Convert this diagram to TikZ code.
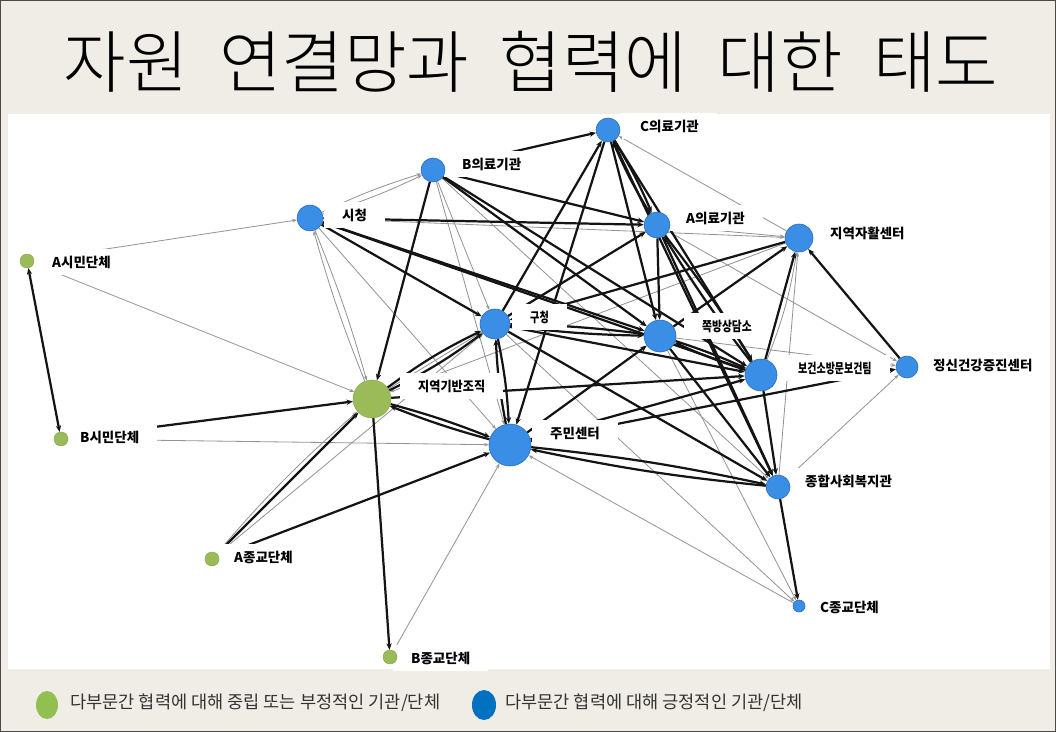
\documentclass[tikz,border=0pt]{standalone}
\usepackage{fontspec}
\usetikzlibrary{arrows.meta,shapes.geometric}
\newfontfamily\kr{Noto Sans CJK KR}
\newfontfamily\krlight{Noto Sans CJK KR Light}
\definecolor{nblue}{HTML}{3A8EE6}
\definecolor{nblueb}{HTML}{2C6CB4}
\definecolor{ngreen}{HTML}{9BBB59}
\definecolor{ngreenb}{HTML}{86A84A}
\definecolor{lgreen}{HTML}{92C050}
\definecolor{lblue}{HTML}{0070C0}
\definecolor{beige}{HTML}{EFEDE5}
\pgfdeclarelayer{bgl}
\pgfdeclarelayer{edgel}
\pgfdeclarelayer{labl}
\pgfsetlayers{bgl,edgel,labl,main}
\tikzset{
  bn/.style={circle,fill=nblue,draw=nblueb,line width=0.5pt,minimum size={#1*0.06cm},inner sep=0pt},
  gn/.style={circle,fill=ngreen,draw=ngreenb,line width=0.4pt,minimum size={#1*0.06cm},inner sep=0pt},
  lab/.style={fill=white,anchor=west,inner xsep=0.54cm,inner ysep=0.2cm,font=\kr\bfseries\fontsize{11.5}{12}\selectfont},
  bk/.style={draw=black!92,line width=1.9pt,-{Stealth[length=5.5pt,width=4.5pt]}},
  gr/.style={draw=black!42,line width=0.7pt,-{Stealth[length=4pt,width=3pt]}},
}
\begin{document}
\begin{tikzpicture}[x=0.03cm,y=-0.03cm]
\useasboundingbox (0,0) rectangle (1056,732);
\begin{pgfonlayer}{bgl}
\fill[beige] (0,0) rectangle (1056,732);
\fill[white] (8,114) rectangle (1050,669);
\draw[black!70,line width=1.2pt] (0.6,0.6) rectangle (1055.4,731.4);
\end{pgfonlayer}
% title
\node[font=\krlight\fontsize{58}{62}\selectfont,inner sep=0pt] (title) at (531,62) {자원\hspace{0.45em}연결망과\hspace{0.45em}협력에\hspace{0.45em}대한\hspace{0.45em}태도};
% nodes
\node[bn=12] (Cmed) at (608,130) {};
\node[bn=12] (Bmed) at (433,170) {};
\node[bn=13] (sichung) at (310,218) {};
\node[bn=13] (Amed) at (657,225) {};
\node[bn=14] (jahwal) at (799,238) {};
\node[gn=7] (Acivic) at (27,261) {};
\node[bn=15] (gu) at (495,324) {};
\node[bn=16] (jjok) at (660,336) {};
\node[bn=16] (bogun) at (761,375) {};
\node[bn=11] (mental) at (907,367) {};
\node[gn=19] (jiyeok) at (372,399) {};
\node[gn=7] (Bcivic) at (61,439) {};
\node[bn=21] (jumin) at (510,445) {};
\node[bn=12] (jonghap) at (778,487) {};
\node[gn=7] (Arel) at (212,559) {};
\node[bn=6] (Crel) at (799,606) {};
\node[gn=7] (Brel) at (390,657) {};
% labels
\begin{pgfonlayer}{labl}
\node[lab] (lCmed) at (622,126) {C의료기관};
\node[lab] (lBmed) at (444,164) {B의료기관};
\node[lab] (lsichung) at (324,215) {시청};
\node[lab] (lAmed) at (668,218) {A의료기관};
\node[lab] (ljahwal) at (812,233) {지역자활센터};
\node[lab] (lAcivic) at (34,262) {A시민단체};
\node[lab] (lgu) at (512,317) {\scalebox{0.75}[1]{구청}};
\node[lab] (ljjok) at (684,326) {\scalebox{0.8}[1]{쪽방상담소}};
\node[lab] (lbogun) at (780,368) {\scalebox{0.74}[1]{보건소방문보건팀}};
\node[lab] (lmental) at (915,365) {정신건강증진센터};
\node[lab] (ljiyeok) at (400,386) {\scalebox{0.9}[1]{지역기반조직}};
\node[lab] (lBcivic) at (62,437) {B시민단체};
\node[lab] (ljumin) at (532,433) {주민센터};
\node[lab] (ljonghap) at (787,481) {종합사회복지관};
\node[lab] (lArel) at (216,557) {A종교단체};
\node[lab] (lBrel) at (393,658) {B종교단체};
\node[lab] (lCrel) at (802,607) {C종교단체};
\end{pgfonlayer}
% edges
\begin{pgfonlayer}{edgel}
% gray
\draw[gr] (Acivic) -- (jiyeok);
\draw[gr] (Acivic) -- (sichung);
\draw[gr] (sichung) to[bend left=3] (jiyeok);
\draw[gr] (jiyeok) to[bend left=3] (sichung);
\draw[gr] (sichung) -- (jumin);
\draw[gr] (sichung) to[bend left=4] (Bmed);
\draw[gr] (sichung) to[bend right=4] (Bmed);
\draw[gr] (Bmed) -- (gu);
\draw[gr] (Bmed) -- (jumin);
\draw[gr] (Bcivic) -- (jumin);
\draw[gr] (Arel) to[bend left=4] (jiyeok);
\draw[gr] (Arel) -- (gu);
\draw[gr] (Brel) -- (jumin);
\draw[gr] (Crel) -- (jumin);
\draw[gr] (jjok) -- (Crel);
\draw[gr] (gu) -- (Crel);
\draw[gr] (jahwal) -- (Cmed);
\draw[gr] (Amed) -- (jahwal);
\draw[gr] (Amed) -- (mental);
\draw[gr] (jahwal) -- (jiyeok);
\draw[gr] (jonghap) -- (mental);
\draw[gr] (jonghap) -- (jahwal);
\draw[gr] (bogun) to[bend right=6] (jahwal);
\draw[gr] (jjok) -- (mental);
\draw[gr] (Bmed) -- (jonghap);
\draw[gr] (sichung) -- (jahwal);
\draw[gr] (jiyeok) -- (Amed);
% black
\draw[bk,{Stealth[length=5.5pt,width=4.5pt]}-{Stealth[length=5.5pt,width=4.5pt]}] (Acivic) -- (Bcivic);
\draw[bk] (Bcivic) -- (jiyeok);
\draw[bk] (Bmed) -- (jiyeok);
\draw[bk] (jiyeok) -- (Brel);
\draw[bk] (Arel) -- (jiyeok);
\draw[bk] (Arel) -- (jumin);
\draw[bk] (jiyeok) to[bend left=5] (gu);
\draw[bk] (jiyeok) to[bend right=5] (gu);
\draw[bk] (gu) to[bend left=4] (jumin);
\draw[bk] (jumin) to[bend left=4] (gu);
\draw[bk] (jumin) to[bend left=3] (jiyeok);
\draw[bk] (jiyeok) to[bend left=3] (jumin);
\draw[bk] (sichung) -- (gu);
\draw[bk] (sichung) -- (jjok);
\draw[bk] (sichung) -- (bogun);
\draw[bk] (sichung) -- (Amed);
\draw[bk] (Bmed) -- (Cmed);
\draw[bk] (Bmed) -- (Amed);
\draw[bk] (Bmed) -- (jjok);
\draw[bk] (Bmed) -- (bogun);
\draw[bk] (gu) -- (Cmed);
\draw[bk] (Cmed) -- (jumin);
\draw[bk] (Cmed) to[bend left=4] (Amed);
\draw[bk] (Amed) to[bend left=4] (Cmed);
\draw[bk] (Cmed) -- (jjok);
\draw[bk] (Cmed) -- (bogun);
\draw[bk] (Cmed) -- (jonghap);
\draw[bk] (gu) -- (Amed);
\draw[bk] (Amed) -- (jjok);
\draw[bk] (Amed) to[bend left=3] (bogun);
\draw[bk] (bogun) to[bend left=3] (Amed);
\draw[bk] (Amed) -- (jonghap);
\draw[bk] (jahwal) -- (gu);
\draw[bk] (jjok) -- (jahwal);
\draw[bk] (bogun) -- (jahwal);
\draw[bk] (mental) -- (jahwal);
\draw[bk] (gu) to[bend left=3] (jjok);
\draw[bk] (gu) to[bend right=3] (jjok);
\draw[bk] (gu) -- (bogun);
\draw[bk] (gu) -- (jonghap);
\draw[bk] (jjok) to[bend left=3] (bogun);
\draw[bk] (bogun) to[bend left=3] (jjok);
\draw[bk] (jjok) -- (jonghap);
\draw[bk] (jumin) -- (jjok);
\draw[bk] (jiyeok) -- (bogun);
\draw[bk] (jumin) -- (bogun);
\draw[bk] (jumin) -- (mental);
\draw[bk] (bogun) -- (jonghap);
\draw[bk] (jumin) to[bend left=3] (jonghap);
\draw[bk] (jonghap) to[bend left=3] (jumin);
\draw[bk] (jonghap) -- (Crel);
\end{pgfonlayer}
% legend
\node[ellipse,fill=lgreen,minimum width=22*0.03cm,minimum height=28*0.03cm,inner sep=0pt] (leg1) at (47,705) {};
\node[anchor=west,inner sep=0pt,font=\kr\fontsize{15}{17}\selectfont,text=black!80] (leg1t) at (70,703) {다부문간 협력에 대해 중립 또는 부정적인 기관/단체};
\node[ellipse,fill=lblue,minimum width=24*0.03cm,minimum height=30*0.03cm,inner sep=0pt] (leg2) at (484,705) {};
\node[anchor=west,inner sep=0pt,font=\kr\fontsize{15}{17}\selectfont,text=black!80] (leg2t) at (505,703) {다부문간 협력에 대해 긍정적인 기관/단체};
\end{tikzpicture}
\end{document}
